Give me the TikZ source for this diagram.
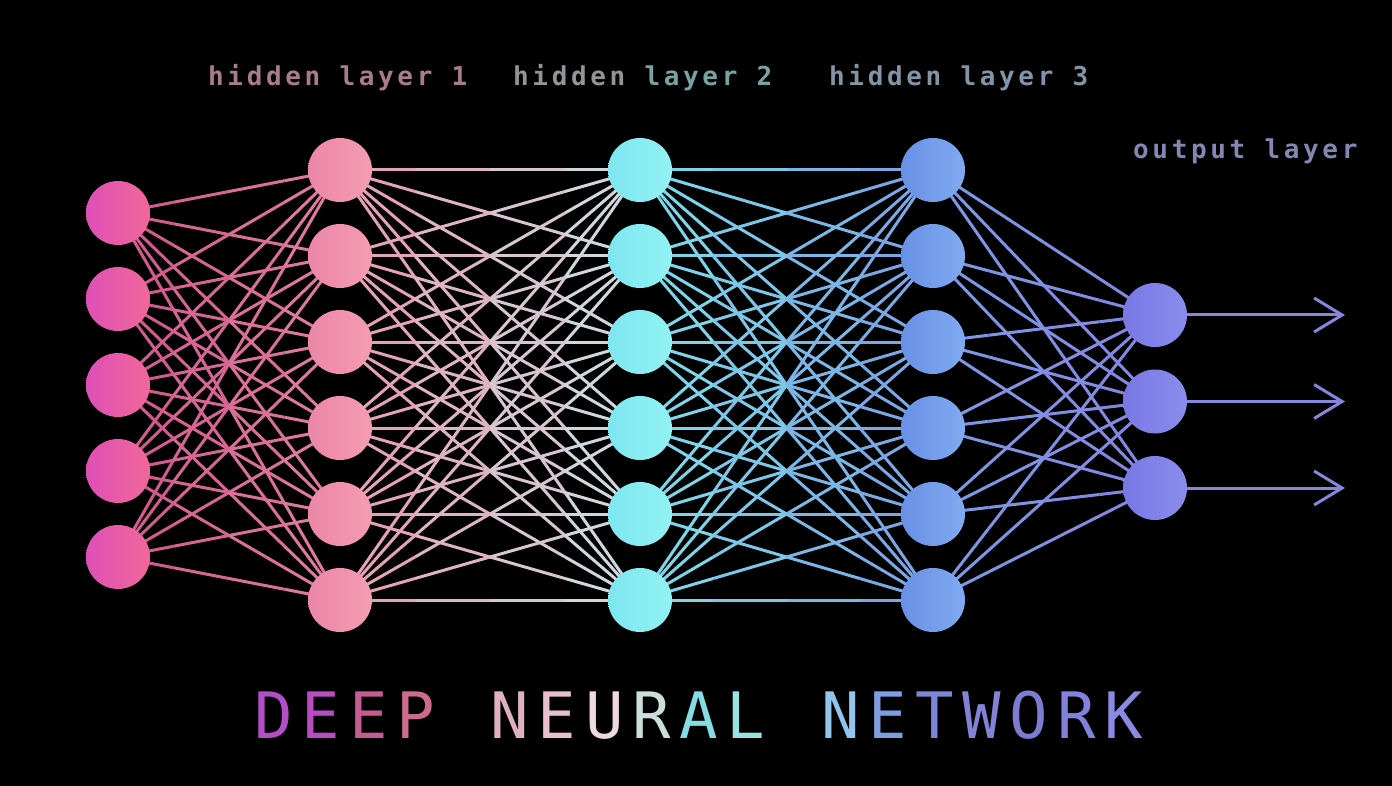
\documentclass[tikz,border=0pt]{standalone}
\usepackage{fontspec}
\usetikzlibrary{arrows.meta,calc}
\newfontfamily\monofont{DejaVu Sans Mono}
\newfontfamily\labelfont[LetterSpace=14]{DejaVu Sans Mono}
\definecolor{inL}{HTML}{DE4FB6}
\definecolor{inR}{HTML}{F0689A}
\definecolor{haL}{HTML}{EC86A8}
\definecolor{haR}{HTML}{F49CB2}
\definecolor{hbL}{HTML}{7EE6F0}
\definecolor{hbR}{HTML}{92F2F4}
\definecolor{hcL}{HTML}{6890E6}
\definecolor{hcR}{HTML}{80AAF0}
\definecolor{outL}{HTML}{7878E6}
\definecolor{outR}{HTML}{8A8CEC}
\definecolor{wInA}{HTML}{D0568C}
\definecolor{wInB}{HTML}{E07EA0}
\definecolor{wHaA}{HTML}{E898B2}
\definecolor{wHaB}{HTML}{CCE0E2}
\definecolor{wHbA}{HTML}{7EDCEA}
\definecolor{wHbB}{HTML}{78A0E4}
\definecolor{wHcA}{HTML}{7C9AE6}
\definecolor{wHcB}{HTML}{8484E0}
\definecolor{wOut}{HTML}{8686DE}
\definecolor{labA}{HTML}{A87C8C}
\definecolor{labB}{HTML}{949498}
\definecolor{labBB}{HTML}{7AA2A2}
\definecolor{labC}{HTML}{8494A8}
\definecolor{labD}{HTML}{8686B2}
\pgfdeclarelayer{bg}
\pgfdeclarelayer{wires}
\pgfsetlayers{bg,wires,main}
\newcommand\wire[4]{\foreach \sa/\sb/\mx in {0/.25/88,.25/.5/63,.5/.75/38,.75/1/13}
  {\draw[line width=3pt,#3!\mx!#4] ($(#1)!\sa!(#2)$) -- ($(#1)!\sb!(#2)$);}}
\begin{document}
\begin{tikzpicture}[x=1pt,y=-1pt,
  unit/.style={circle,minimum size=64pt,inner sep=0pt},
  lbl/.style={anchor=base west,inner sep=0pt,font=\labelfont\bfseries\fontsize{26}{26}\selectfont},
  ttl/.style={anchor=base,inner sep=0pt,font=\monofont\fontsize{64}{64}\selectfont},
  outarrow/.style={-{Straight Barb[length=28pt,width=34pt]},line width=3pt,wOut}]
\begin{pgfonlayer}{bg}
\fill[black] (0,0) rectangle (1392,786);
\end{pgfonlayer}
\foreach \i in {1,...,5}
  \node[unit,left color=inL,right color=inR] (in\i) at (118,{213+86*(\i-1)}) {};
\foreach \i in {1,...,6}{
  \node[unit,left color=haL,right color=haR] (ha\i) at (340,{170+86*(\i-1)}) {};
  \node[unit,left color=hbL,right color=hbR] (hb\i) at (640,{170+86*(\i-1)}) {};
  \node[unit,left color=hcL,right color=hcR] (hc\i) at (933,{170+86*(\i-1)}) {};
}
\foreach \i in {1,2,3}{
  \node[unit,left color=outL,right color=outR] (out\i) at (1155,{315+86.5*(\i-1)}) {};
  \coordinate (end\i) at (1345,{315+86.5*(\i-1)});
  \draw[outarrow] (out\i) -- (end\i);
}
\begin{pgfonlayer}{wires}
\foreach \i in {1,...,6}{
  \foreach \j in {1,...,5} \wire{in\j}{ha\i}{wInA}{wInB};
  \foreach \j in {1,...,6} \wire{ha\i}{hb\j}{wHaA}{wHaB};
  \foreach \j in {1,...,6} \wire{hb\i}{hc\j}{wHbA}{wHbB};
  \foreach \j in {1,2,3} \wire{hc\i}{out\j}{wHcA}{wHcB};
}
\end{pgfonlayer}
\node[lbl,labA] (lab1) at (208,86) {hidden layer 1};
\node[lbl] (lab2) at (513,86) {\color{labB}hidden \color{labBB}layer 2};
\node[lbl,labC] (lab3) at (829,86) {hidden layer 3};
\node[lbl,labD] (lab4) at (1133,159) {output layer};
\foreach \i/\ch/\c in {0/D/B24FC8,1/E/B84CC0,2/E/C65A92,3/P/CC6C8C,5/N/DEB0C2,6/E/E6C0CA,7/U/EEDADE,8/R/CCDEDC,9/A/84DCE4,10/L/98E2E2,12/N/92C4EC,13/E/7E9EE2,14/T/7C86D8,15/W/8282D6,16/O/7C7CD2,17/R/8282DE,18/K/8A8AE2}
  \node[ttl] (t\i) at ({274+47.2*\i},738) {\definecolor{tc}{HTML}{\c}\color{tc}\ch};
\end{tikzpicture}
\end{document}
